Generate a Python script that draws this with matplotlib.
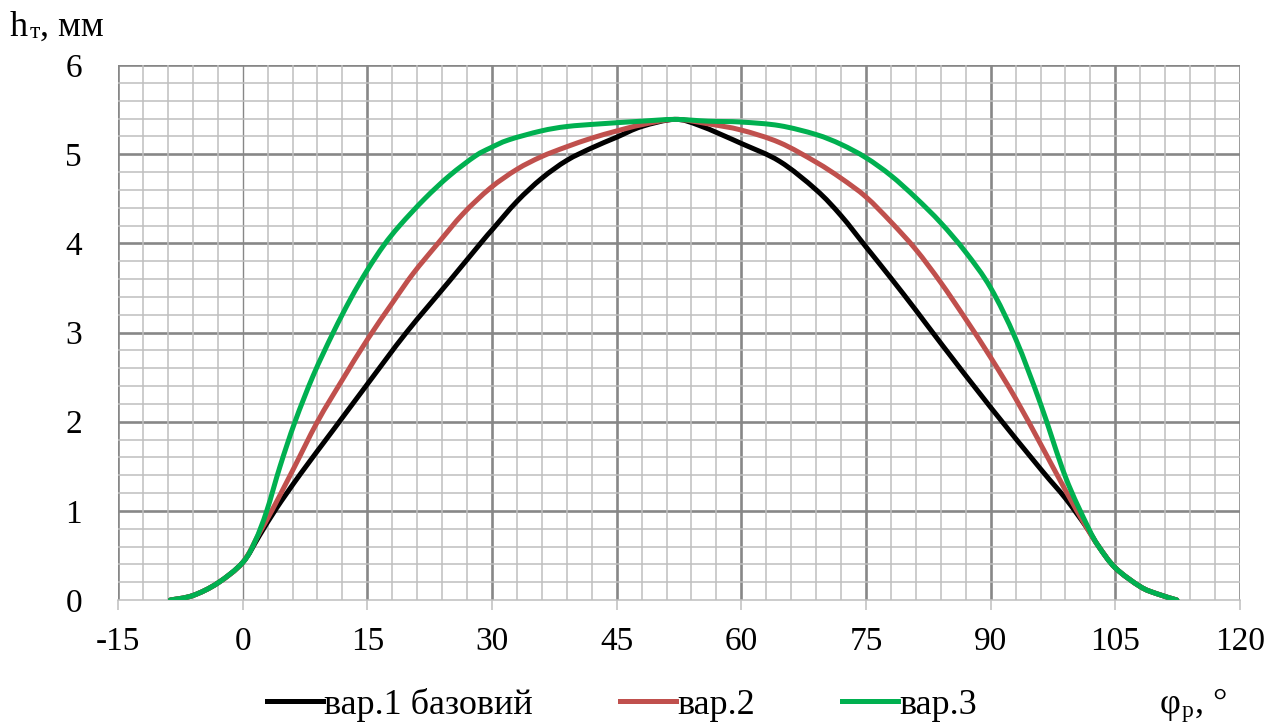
import matplotlib
matplotlib.use("Agg")
import matplotlib.pyplot as plt
from matplotlib.ticker import MultipleLocator
from matplotlib.path import Path
from matplotlib.patches import PathPatch
from matplotlib.lines import Line2D

plt.rcParams['font.family'] = ['Liberation Serif', 'DejaVu Serif']
plt.rcParams['axes.unicode_minus'] = False

# values
x_black = [-8.7, -6, -3, 0, 2, 4, 7, 11, 15, 19.7, 24.9, 28.8, 30, 33, 36, 39, 42, 45, 48,
           52, 55, 60, 64.6, 69, 72, 75, 78, 81, 84, 90, 96, 99, 101.5, 103, 105, 108, 110, 112.4]
y_black = [0, 0.05, 0.19, 0.42, 0.72, 1.02, 1.42, 1.92, 2.42, 3.0, 3.58, 4.02, 4.15, 4.47, 4.73, 4.93, 5.07, 5.19, 5.31,
           5.39, 5.32, 5.12, 4.92, 4.6, 4.31, 3.96, 3.61, 3.25, 2.88, 2.16, 1.47, 1.14, 0.82, 0.6, 0.36, 0.15, 0.07, 0.0]

x_red = [-8.7, -6, -3, 0, 2, 3.5, 6, 9, 12, 15, 18, 20.5, 23.5, 26.5, 29.8, 33, 35.9, 38.9, 42, 45, 48,
         52, 56, 60, 64.6, 69, 72, 75, 78, 81, 84, 87, 90, 93, 96, 99, 101.5, 103, 105, 108, 110, 112.4]
y_red = [0, 0.05, 0.19, 0.42, 0.75, 1.0, 1.45, 2.0, 2.47, 2.92, 3.33, 3.66, 4.0, 4.33, 4.62, 4.83, 4.97, 5.08, 5.18, 5.26, 5.33,
         5.39, 5.34, 5.27, 5.13, 4.91, 4.73, 4.52, 4.24, 3.93, 3.56, 3.15, 2.72, 2.26, 1.75, 1.23, 0.82, 0.6, 0.36, 0.15, 0.07, 0.0]

x_green = [-8.7, -6, -3, 0, 1.5, 2.9, 4.5, 6.3, 8.5, 10.9, 13, 15, 17, 18.9, 21.9, 24.9, 28, 29.8, 32, 35.9, 39, 43, 48,
           52, 56, 60, 64.6, 69, 72, 75, 78, 81, 84, 87, 90, 93, 96, 99, 101.7, 103, 105, 108, 110, 112.4]
y_green = [0, 0.05, 0.19, 0.42, 0.66, 1.0, 1.5, 2.0, 2.52, 3.0, 3.38, 3.7, 3.98, 4.2, 4.5, 4.76, 4.98, 5.07, 5.16, 5.26, 5.31, 5.34, 5.37,
           5.39, 5.37, 5.36, 5.32, 5.22, 5.11, 4.96, 4.76, 4.51, 4.23, 3.9, 3.5, 2.93, 2.2, 1.38, 0.82, 0.6, 0.36, 0.15, 0.07, 0.0]

labels = ["вар.1 базовий", "вар.2", "вар.3"]
colors = ["#000000", "#C0504D", "#00B050"]

x_major = [-15, 0, 15, 30, 45, 60, 75, 90, 105, 120]
y_major = [0, 1, 2, 3, 4, 5, 6]


def smooth_path(xs, ys):
    # smoothed line like Excel: cubic bezier through the points
    pts = list(zip(xs, ys))
    n = len(pts)
    verts = [pts[0]]
    codes = [Path.MOVETO]
    for i in range(n - 1):
        p0 = pts[i - 1] if i > 0 else pts[i]
        p1 = pts[i]
        p2 = pts[i + 1]
        p3 = pts[i + 2] if i + 2 < n else pts[i + 1]
        c1 = (p1[0] + (p2[0] - p0[0]) / 6, p1[1] + (p2[1] - p0[1]) / 6)
        c2 = (p2[0] - (p3[0] - p1[0]) / 6, p2[1] - (p3[1] - p1[1]) / 6)
        verts += [c1, c2, p2]
        codes += [Path.CURVE4] * 3
    return Path(verts, codes)


W, H = 1284, 727
fig = plt.figure(figsize=(W / 100, H / 100), dpi=100)
ax = fig.add_axes([118 / W, 1 - 600 / H, (1240 - 118) / W, (600 - 65) / H])

ax.set_xlim(-15, 120)
ax.set_ylim(0, 6)
ax.set_xticks(x_major)
ax.set_yticks(y_major)
ax.xaxis.set_minor_locator(MultipleLocator(3))
ax.yaxis.set_minor_locator(MultipleLocator(0.2))

major_c = "#878787"
minor_c = "#BFBFBF"
ax.grid(which='minor', color=minor_c, lw=1.1, zorder=0)
for v in x_major:
    ax.axvline(v, color=major_c, lw=1.0 if v == 0 else 1.9, zorder=1)
for v in y_major:
    if v != 0:
        ax.axhline(v, color=major_c, lw=1.9, zorder=1)

for s in ax.spines.values():
    s.set_visible(False)
ax.spines['bottom'].set_visible(True)
ax.spines['bottom'].set_color(minor_c)
ax.spines['bottom'].set_linewidth(1.1)
ax.spines['bottom'].set_zorder(2)

ax.tick_params(axis='x', which='major', direction='out', length=7, width=1.1, color=minor_c,
               labelsize=24, pad=12)
ax.tick_params(axis='x', which='minor', length=0)
ax.tick_params(axis='y', which='both', length=0, labelsize=24, pad=26)

series = [(x_black, y_black), (x_red, y_red), (x_green, y_green)]
handles = []
for (xs, ys), lab, c in zip(series, labels, colors):
    ax.add_patch(PathPatch(smooth_path(xs, ys), fill=False, edgecolor=c, lw=3.6,
                           capstyle='round', joinstyle='round', zorder=3))
    handles.append(Line2D([], [], color=c, lw=3.6, label=lab))

ax.legend(handles=handles, loc='center', bbox_to_anchor=(622 / W, 1 - 705 / H),
          bbox_transform=fig.transFigure, ncol=3, frameon=False, fontsize=26,
          handlelength=1.55, handletextpad=0.05, columnspacing=2.4, borderaxespad=0)

# axis titles written piece by piece (subscripts)
renderer = fig.canvas.get_renderer()


def pieces(x0, y0, parts):
    x = x0
    for txt, size, dy in parts:
        t = fig.text(x / W, 1 - (y0 + dy) / H, txt, fontsize=size, va='baseline')
        x = t.get_window_extent(renderer).x1 + 1


pieces(10, 36, [("h", 26, 0), ("т", 17, 2), (", мм", 26, 0)])
pieces(1160, 713, [("φ", 26, 0), ("р", 17, 4), (", °", 26, 0)])

fig.savefig("out.png", dpi=100)
